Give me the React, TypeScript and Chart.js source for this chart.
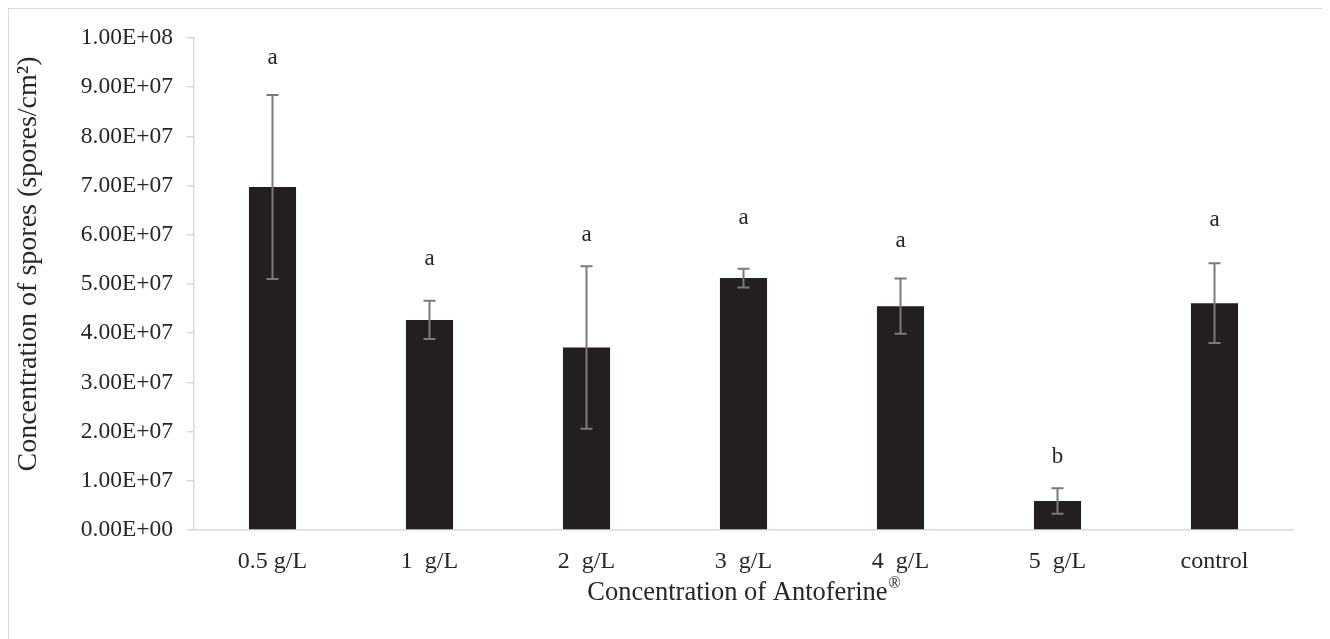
import React, { useEffect, useRef } from "react";
import { Chart, registerables } from "chart.js";

Chart.register(...registerables);

const categories = ["0.5 g/L", "1  g/L", "2  g/L", "3  g/L", "4  g/L", "5  g/L", "control"];
const meanSpores = [6.97e7, 4.27e7, 3.71e7, 5.12e7, 4.55e7, 5.9e6, 4.61e7];
const errorSpores = [1.87e7, 3.9e6, 1.65e7, 1.9e6, 5.6e6, 2.6e6, 8.1e6];
const letters = ["a", "a", "a", "a", "a", "b", "a"];
const letterLevels = [9.6e7, 5.5e7, 6.0e7, 6.35e7, 5.87e7, 1.48e7, 6.3e7];
const yTickLabels = [
  "0.00E+00", "1.00E+07", "2.00E+07", "3.00E+07", "4.00E+07", "5.00E+07",
  "6.00E+07", "7.00E+07", "8.00E+07", "9.00E+07", "1.00E+08",
];
const yTitle = "Concentration of spores (spores/cm\u00B2)";
const xTitle = "Concentration of Antoferine";
const xTitleSup = "\u00AE";

const FONT = '"Liberation Serif", "Times New Roman", serif';
const AXIS_GREY = "#d9d9d9";
const TEXT = "#262626";

const extrasPlugin = {
  id: "extras",
  afterDatasetsDraw(chart: any) {
    const { ctx, scales } = chart;
    const x = scales.x;
    const y = scales.y;
    ctx.save();
    ctx.strokeStyle = "#7a7a7a";
    ctx.lineWidth = 2;
    meanSpores.forEach((m, i) => {
      const cx = x.getPixelForValue(i);
      const top = y.getPixelForValue(m + errorSpores[i]);
      const bot = y.getPixelForValue(m - errorSpores[i]);
      ctx.beginPath();
      ctx.moveTo(cx, top);
      ctx.lineTo(cx, bot);
      ctx.moveTo(cx - 6, top);
      ctx.lineTo(cx + 6, top);
      ctx.moveTo(cx - 6, bot);
      ctx.lineTo(cx + 6, bot);
      ctx.stroke();
    });
    ctx.fillStyle = TEXT;
    ctx.font = `23px ${FONT}`;
    ctx.textAlign = "center";
    ctx.textBaseline = "middle";
    letters.forEach((l, i) => {
      ctx.fillText(l, x.getPixelForValue(i), y.getPixelForValue(letterLevels[i]));
    });
    ctx.restore();
  },
  afterDraw(chart: any) {
    const { ctx, chartArea } = chart;
    ctx.save();
    ctx.fillStyle = TEXT;
    // x-axis title with superscript mark
    ctx.textBaseline = "middle";
    ctx.textAlign = "left";
    ctx.font = `26.5px ${FONT}`;
    const w1 = ctx.measureText(xTitle).width;
    ctx.font = `16px ${FONT}`;
    const w2 = ctx.measureText(xTitleSup).width;
    const cx = (chartArea.left + chartArea.right) / 2;
    const start = cx - (w1 + w2) / 2;
    const cy = chartArea.bottom + 63;
    ctx.font = `26.5px ${FONT}`;
    ctx.fillText(xTitle, start, cy);
    ctx.font = `16px ${FONT}`;
    ctx.fillText(xTitleSup, start + w1 + 1, cy - 9);
    // y-axis title
    ctx.translate(20, chartArea.top + (chartArea.bottom - chartArea.top) / 2 - 20);
    ctx.rotate(-Math.PI / 2);
    ctx.textAlign = "center";
    ctx.font = `28px ${FONT}`;
    ctx.fillText(yTitle, 0, 0);
    ctx.restore();
  },
};

export default function App() {
  const canvasRef = useRef<HTMLCanvasElement | null>(null);

  useEffect(() => {
    document.documentElement.style.overflow = "hidden";
    document.body.style.overflow = "hidden";
    const canvas = canvasRef.current;
    if (!canvas) return;
    const chart = new Chart(canvas, {
      type: "bar",
      data: {
        labels: categories,
        datasets: [
          {
            data: meanSpores,
            backgroundColor: "#231f20",
            borderWidth: 0,
            barPercentage: 0.3,
            categoryPercentage: 1,
          },
        ],
      },
      options: {
        responsive: false,
        animation: false,
        devicePixelRatio: 1,
        layout: { padding: { top: 29, right: 29, left: 0, bottom: 0 } },
        plugins: {
          legend: { display: false },
          tooltip: { enabled: false },
        },
        scales: {
          x: {
            offset: true,
            grid: { display: false },
            border: { display: true, color: AXIS_GREY, width: 1.5 },
            ticks: {
              color: TEXT,
              font: { family: FONT, size: 24 },
              padding: 9,
              maxRotation: 0,
              autoSkip: false,
            },
            afterFit(scale: any) {
              scale.height = 110;
            },
          },
          y: {
            min: 0,
            max: 1e8,
            grid: {
              display: true,
              drawOnChartArea: false,
              drawTicks: true,
              tickLength: 7,
              color: AXIS_GREY,
              lineWidth: 1.5,
            },
            border: { display: true, color: AXIS_GREY, width: 1.5 },
            ticks: {
              stepSize: 1e7,
              color: TEXT,
              font: { family: FONT, size: 23.5 },
              padding: 14,
              callback: (_v: any, i: number) => yTickLabels[i],
            },
            afterFit(scale: any) {
              scale.width = 185;
            },
          },
        },
      },
      plugins: [extrasPlugin],
    });
    return () => chart.destroy();
  }, []);

  return (
    <div
      style={{
        width: 1313,
        height: 631,
        border: `1px solid ${AXIS_GREY}`,
        background: "#fff",
      }}
    >
      <canvas ref={canvasRef} width={1313} height={631} style={{ display: "block" }} />
    </div>
  );
}
